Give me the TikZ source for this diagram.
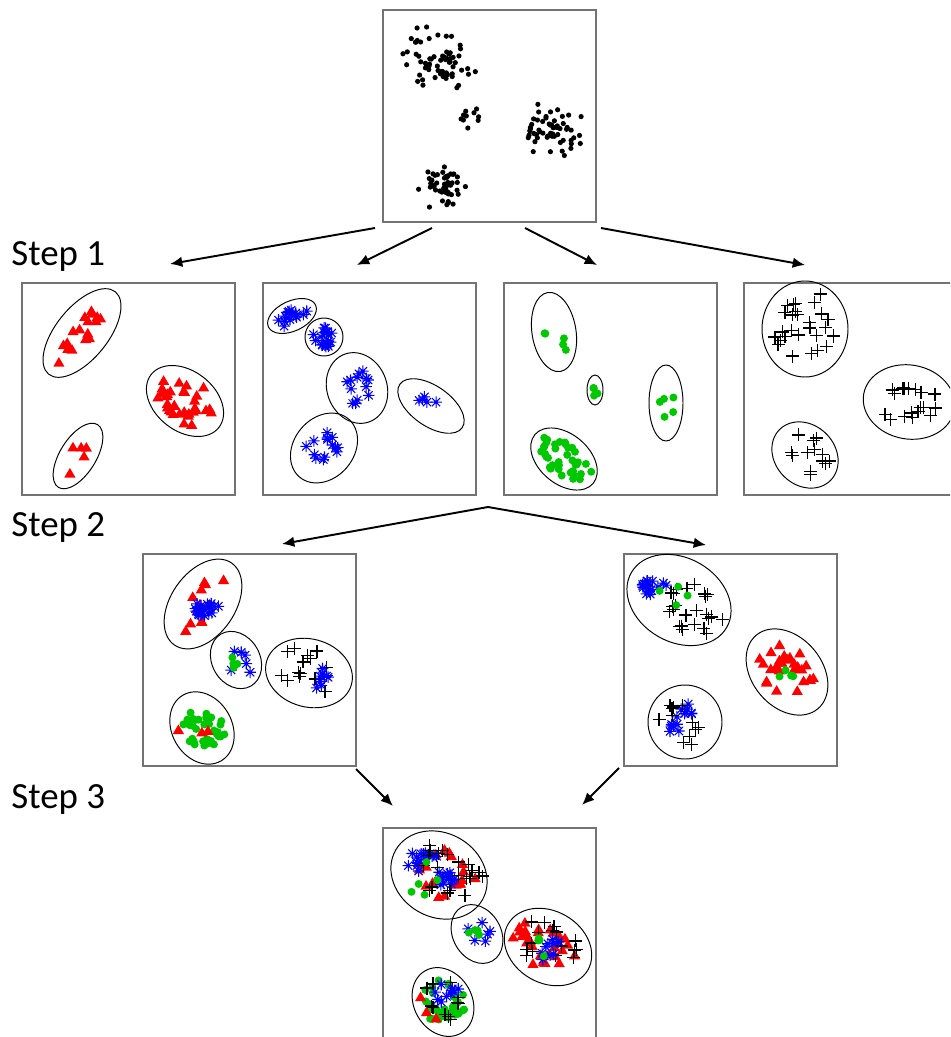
\documentclass[tikz,border=0pt]{standalone}
\usepackage{fontspec}
\newfontfamily\stepfont{Carlito}
\usepackage{tikz}
\usetikzlibrary{arrows.meta}
\definecolor{dotgreen}{RGB}{0,200,0}
\tikzstyle{panel}=[draw=black!55,line width=0.9pt,minimum width=4.26cm,minimum height=4.24cm,inner sep=0pt,anchor=north west]
\tikzstyle{clus}=[draw=black,line width=0.55pt]
\tikzstyle{flow}=[draw,line width=1.1pt,-{Latex[length=7pt,width=6pt]}]
\tikzstyle{steplabel}=[font=\stepfont\fontsize{21}{25}\selectfont,anchor=base west,inner sep=0pt]
\tikzset{
  bdot/.pic={\fill[black] (0,0) circle (2.6);},
  gdot/.pic={\fill[dotgreen] (0,0) circle (4);},
  tri/.pic={\fill[red] (0,-6) -- (5.6,3.6) -- (-5.6,3.6) -- cycle;},
  ast/.pic={\draw[blue,line width=0.6pt] (-5.8,0) -- (5.8,0) (0,-5.8) -- (0,5.8) (-4.1,-4.1) -- (4.1,4.1) (-4.1,4.1) -- (4.1,-4.1);},
  pls/.pic={\draw[black,line width=0.7pt] (-6.5,0) -- (6.5,0) (0,-6.5) -- (0,6.5);}
}
% centre x, centre y, x spread, y spread, tilt, count, marker
\newcommand{\ptcloud}[7]{%
  \foreach \k in {1,...,#6}{
    \pgfmathsetmacro\pta{360*rnd}
    \pgfmathsetmacro\ptr{0.45*rnd+0.55*sqrt(rnd)}
    \pgfmathsetmacro\ptu{#3*\ptr*cos(\pta)}
    \pgfmathsetmacro\ptv{#4*\ptr*sin(\pta)}
    \pgfmathsetmacro\ptx{#1+(\ptu)*cos(#5)+(\ptv)*sin(#5)}
    \pgfmathsetmacro\pty{#2-(\ptu)*sin(#5)+(\ptv)*cos(#5)}
    \pic at (\ptx,\pty) {#7};
  }}

\begin{document}
\begin{tikzpicture}[x=0.02cm,y=-0.02cm]
    \clip (0,0) rectangle (950,1037);
    \pgfmathsetseed{4}

    \foreach \pos/\name in {{(382,9)/top}, {(21,282)/sa}, {(262,282)/sb}, {(503,282)/sc}, {(743,282)/sd}, {(142,553)/ta}, {(623,553)/tb}, {(382,827)/final}}
        \node[panel] (\name) at \pos {};

    \node[steplabel] (step1) at (11,265) {Step 1};
    \node[steplabel] (step2) at (11,536) {Step 2};
    \node[steplabel] (step3) at (11,808) {Step 3};

    % all data
    \ptcloud{440}{65}{20}{15}{0}{30}{bdot}
    \ptcloud{437}{60}{46}{36}{-15}{40}{bdot}
    \ptcloud{472}{117}{14}{14}{0}{10}{bdot}
    \ptcloud{545}{128}{22}{16}{0}{28}{bdot}
    \ptcloud{550}{130}{40}{28}{-10}{30}{bdot}
    \ptcloud{440}{183}{16}{14}{0}{26}{bdot}
    \ptcloud{442}{185}{28}{28}{0}{24}{bdot}

    % step 1
    \ptcloud{82}{333}{42}{14}{51}{17}{tri}
    \ptcloud{185}{401}{36}{24}{-38}{35}{tri}
    \ptcloud{78}{456}{28}{10}{58}{5}{tri}
    \ptcloud{292}{316}{18}{8}{25}{15}{ast}
    \ptcloud{324}{337}{12}{12}{0}{20}{ast}
    \ptcloud{357}{388}{24}{18}{-70}{13}{ast}
    \ptcloud{324}{448}{26}{18}{50}{14}{ast}
    \ptcloud{431}{406}{20}{8}{-35}{5}{ast}
    \ptcloud{554}{332}{28}{16}{-81}{5}{gdot}
    \ptcloud{595}{390}{4}{10}{0}{4}{gdot}
    \ptcloud{666}{403}{10}{22}{0}{5}{gdot}
    \ptcloud{564}{459}{32}{20}{-40}{38}{gdot}
    \ptcloud{805}{329}{34}{40}{0}{28}{pls}
    \ptcloud{909}{402}{36}{26}{-10}{18}{pls}
    \ptcloud{805}{455}{28}{22}{-45}{13}{pls}

    % step 2
    \ptcloud{205}{600}{38}{20}{55}{12}{tri}
    \ptcloud{207}{610}{14}{10}{0}{20}{ast}
    \ptcloud{238}{658}{20}{14}{-60}{6}{ast}
    \ptcloud{233}{662}{8}{8}{0}{4}{gdot}
    \ptcloud{312}{672}{36}{26}{-15}{16}{pls}
    \ptcloud{320}{680}{16}{10}{40}{8}{ast}
    \ptcloud{203}{728}{28}{22}{-60}{36}{gdot}
    \ptcloud{195}{725}{25}{20}{0}{3}{tri}
    \ptcloud{690}{605}{42}{32}{-30}{25}{pls}
    \ptcloud{653}{585}{16}{10}{20}{18}{ast}
    \ptcloud{675}{600}{25}{25}{0}{4}{gdot}
    \ptcloud{787}{672}{38}{26}{-30}{28}{tri}
    \ptcloud{785}{675}{12}{12}{0}{4}{gdot}
    \ptcloud{682}{718}{20}{12}{45}{14}{ast}
    \ptcloud{685}{722}{28}{28}{0}{12}{pls}

    % step 3
    \ptcloud{445}{875}{38}{28}{-30}{20}{tri}
    \ptcloud{420}{860}{22}{12}{20}{15}{ast}
    \ptcloud{447}{880}{14}{10}{0}{12}{ast}
    \ptcloud{450}{875}{40}{30}{-30}{22}{pls}
    \ptcloud{430}{875}{30}{25}{0}{5}{gdot}
    \ptcloud{478}{932}{20}{14}{-60}{6}{ast}
    \ptcloud{473}{935}{8}{8}{0}{4}{gdot}
    \ptcloud{545}{945}{36}{26}{-30}{30}{tri}
    \ptcloud{548}{947}{36}{28}{-30}{16}{pls}
    \ptcloud{550}{950}{18}{10}{40}{10}{ast}
    \ptcloud{543}{945}{12}{12}{0}{4}{gdot}
    \ptcloud{444}{1002}{26}{22}{-60}{36}{gdot}
    \ptcloud{440}{1000}{28}{24}{0}{12}{pls}
    \ptcloud{447}{990}{16}{10}{45}{10}{ast}
    \ptcloud{440}{1005}{25}{20}{0}{3}{tri}

    \foreach \pos/\rx/\ry/\tilt in {{(82,333)/53/26/51}, {(185,401)/43/30/-38}, {(78,456)/37/18/58},
        {(292,316)/26/15/25}, {(324,337)/19/19/0}, {(357,388)/36/30/-70}, {(324,448)/38/30/50}, {(431,406)/38/20/-35},
        {(554,332)/40/22/-81}, {(595,390)/8/15/0}, {(666,403)/17/38/0}, {(564,459)/38/25/-40},
        {(805,329)/43/48/0}, {(909,402)/46/37/-10}, {(805,455)/36/30/-45},
        {(203,604)/50/32/55}, {(236,660)/30/24/-60}, {(309,673)/44/34/-15}, {(202,728)/38/30/-60},
        {(679,600)/55/42/-30}, {(787,672)/48/35/-50}, {(685,722)/37/37/0},
        {(439,875)/50/42/-30}, {(477,934)/31/24/-60}, {(548,947)/46/36/-30}, {(443,1002)/36/29/-60}}
        \draw[clus] \pos ellipse [x radius=\rx, y radius=\ry, rotate=\tilt];

    \foreach \pos/\name in {{(375,228)/t1}, {(432,228)/t2}, {(525,228)/t3}, {(601,228)/t4}, {(170,264)/h1}, {(357,265)/h2}, {(597,265)/h3}, {(805,265)/h4},
        {(488,507)/fork}, {(282,544)/h5}, {(706,545)/h6}, {(356,769)/u1}, {(619,768)/u2}, {(393,806)/h7}, {(582,805)/h8}}
        \path \pos coordinate (\name);

    \foreach \source/\dest in {t1/h1, t2/h2, t3/h3, t4/h4, fork/h5, fork/h6, u1/h7, u2/h8}
        \path[flow] (\source) -- (\dest);

\end{tikzpicture}
\end{document}
